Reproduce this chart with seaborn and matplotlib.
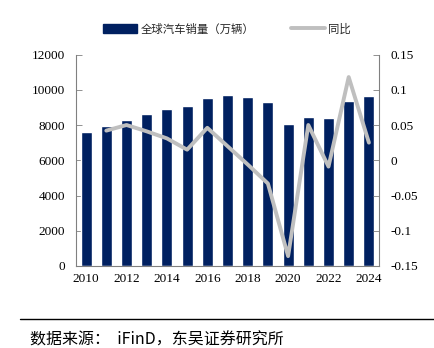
import numpy as np
import pandas as pd
import matplotlib
matplotlib.use("Agg")
import matplotlib.pyplot as plt
import seaborn as sns
from matplotlib.patches import Patch
from matplotlib.lines import Line2D

years = [2010, 2011, 2012, 2013, 2014, 2015, 2016, 2017, 2018, 2019, 2020, 2021, 2022, 2023, 2024]
sales = [7620, 7920, 8300, 8640, 8920, 9050, 9510, 9690, 9600, 9290, 8040, 8450, 8400, 9390, 9620]
yoy_years = [2011, 2012, 2013, 2014, 2015, 2016, 2017, 2018, 2019, 2020, 2021, 2022, 2023, 2024]
yoy = [0.042, 0.050, 0.041, 0.031, 0.015, 0.046, 0.020, -0.006, -0.033, -0.136, 0.050, -0.009, 0.118, 0.025]
xtick_labels = ["2010", "2012", "2014", "2016", "2018", "2020", "2022", "2024"]
bar_label = "全球汽车销量（万辆）"
line_label = "同比"
source_text = "数据来源：  iFinD，东吴证券研究所"

sns.set_theme(style="white")
plt.rcParams['font.family'] = ['Liberation Serif', 'Noto Sans CJK SC', 'DejaVu Sans']

navy = "#002060"
gray = "#BFBFBF"

fig = plt.figure(figsize=(4.34, 3.48), dpi=100)
ax = fig.add_axes([76/434, 1 - 266/348, (379-76)/434, (266-54.5)/348])

df = pd.DataFrame({"year": [str(y) for y in years], "sales": sales})
sns.barplot(data=df, x="year", y="sales", color=navy, width=0.55, ax=ax, saturation=1)
ax.set_ylim(0, 12000)
ax.set_yticks(np.arange(0, 12001, 2000))
ax.set_xlim(-0.5, len(years) - 0.5)
ax.set_xlabel("")
ax.set_ylabel("")

pos = [years.index(y) for y in yoy_years]
ax2 = ax.twinx()
sns.lineplot(x=pos, y=yoy, color=gray, linewidth=2.8, ax=ax2)
ax2.set_ylim(-0.15, 0.15)
ax2.set_yticks([-0.15, -0.1, -0.05, 0, 0.05, 0.1, 0.15])
ax2.set_yticklabels(["-0.15", "-0.1", "-0.05", "0", "0.05", "0.1", "0.15"])
ax2.set_xlim(-0.5, len(years) - 0.5)

# x ticks: labels under every other bar, tick marks between bars
ax.set_xticks([years.index(int(t)) for t in xtick_labels])
ax.set_xticklabels(xtick_labels)
ax.tick_params(axis='x', length=0, labelsize=9.5, pad=5, colors="black")
ax.set_xticks(np.arange(-0.5, len(years), 1.0), minor=True)
ax.tick_params(axis='x', which='minor', direction='in', length=3, width=0.6, color="#808080")
ax.tick_params(axis='y', direction='in', length=4, width=0.6, labelsize=9.5, pad=8, color="#808080", labelcolor="black")
ax2.tick_params(axis='y', direction='in', length=4, width=0.6, labelsize=9.5, pad=8, color="#808080", labelcolor="black")

for a in (ax, ax2):
    a.grid(False)
    for s in a.spines.values():
        s.set_visible(False)
    a.set_facecolor("none")
ax.spines['left'].set_visible(True)
ax.spines['bottom'].set_visible(True)
ax2.spines['right'].set_visible(True)
for s in (ax.spines['left'], ax.spines['bottom'], ax2.spines['right']):
    s.set_color("#808080")
    s.set_linewidth(0.8)
if ax2.get_legend():
    ax2.get_legend().remove()

handles = [Patch(facecolor=navy, edgecolor=navy, label=bar_label),
           Line2D([0], [0], color=gray, linewidth=2.8, label=line_label)]
fig.legend(handles=handles, loc="center", bbox_to_anchor=(227/434, 1 - 29/348), ncol=2,
           frameon=False, prop={'family': ['Noto Sans CJK SC'], 'size': 8.2},
           handlelength=3.0, handleheight=0.9, columnspacing=3.2, handletextpad=0.3)

fig.add_artist(Line2D([20/434, 1.0], [1 - 319/348, 1 - 319/348], color="black", linewidth=1.0,
                      transform=fig.transFigure))
fig.text(30/434, 1 - 340/348, source_text, fontsize=11.5, va="center", ha="left",
         family=['Noto Sans CJK SC', 'DejaVu Sans'], color="black")

fig.savefig("out.png", dpi=100)
